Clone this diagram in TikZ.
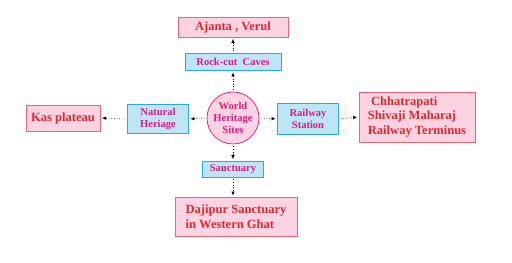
\documentclass[tikz,border=0pt]{standalone}
\usepackage{fontspec}
\setmainfont{Liberation Serif}
\usetikzlibrary{arrows.meta}

\definecolor{pinkfill}{HTML}{FBD3E2}
\definecolor{pinkline}{HTML}{F0626E}
\definecolor{redtext}{HTML}{E3262E}
\definecolor{bluefill}{HTML}{BDE5F8}
\definecolor{blueline}{HTML}{2AA8E0}
\definecolor{magtext}{HTML}{E2197C}

\begin{document}
\begin{tikzpicture}[x=0.035cm, y=-0.035cm, >={Latex[length=4pt,width=3.5pt]},
  site/.style={draw=pinkline, fill=pinkfill, line width=0.7pt, text=redtext,
    font=\fontsize{12.5}{14.5}\selectfont\bfseries, inner sep=0pt},
  kind/.style={draw=blueline, fill=bluefill, line width=0.7pt, text=magtext,
    font=\fontsize{10.5}{12}\selectfont\bfseries, inner sep=0pt, align=center},
  link/.style={->, dotted, line width=0.6pt, shorten <=2pt, shorten >=1.5pt}]
\useasboundingbox (0,0) rectangle (512,263);

% centre
\node[circle, draw=magtext, fill=pinkfill, line width=0.7pt, text=magtext,
  font=\fontsize{10.5}{12}\selectfont\bfseries, align=center,
  minimum size=1.82cm, inner sep=0pt] (W) at (233,118) {World\\Heritage\\Sites};

% categories
\node[kind, minimum width=3.36cm, minimum height=0.6cm] (R) at (233,62) {Rock-cut\ \ Caves};
\node[kind, minimum width=2.14cm, minimum height=1.0cm] (N) at (158,119) {Natural\\Heriage};
\node[kind, minimum width=2.14cm, minimum height=1.08cm] (T) at (308,119) {Railway\\Station};
\node[kind, minimum width=2.14cm, minimum height=0.56cm] (S) at (233,169) {Sanctuary};

% examples
\node[site, minimum width=3.85cm, minimum height=0.7cm] (A) at (233,27) {Ajanta , Verul};
\node[site, minimum width=2.6cm, minimum height=0.9cm] (K) at (63,118) {Kas plateau};
\node[site, minimum width=4.06cm, minimum height=1.75cm, align=left] (C) at (417,117)
  {\ Chhatrapati\\Shivaji Maharaj\\Railway Terminus};
\node[site, minimum width=4.27cm, minimum height=1.37cm, align=left] (D) at (236,217)
  {Dajipur Sanctuary\\in Western Ghat};

% arrows
\draw[link] (W.north) -- (R.south);
\draw[link] (R.north) -- (A.south);
\draw[link] (W.west) -- (N.east);
\draw[link] (N.west) -- (K.east);
\draw[link] (W.east) -- (T.west);
\draw[link] (T.east) -- (C.west);
\draw[link] (W.south) -- (S.north);
\draw[link] (S.south) -- (S.south |- D.north);
\end{tikzpicture}
\end{document}
